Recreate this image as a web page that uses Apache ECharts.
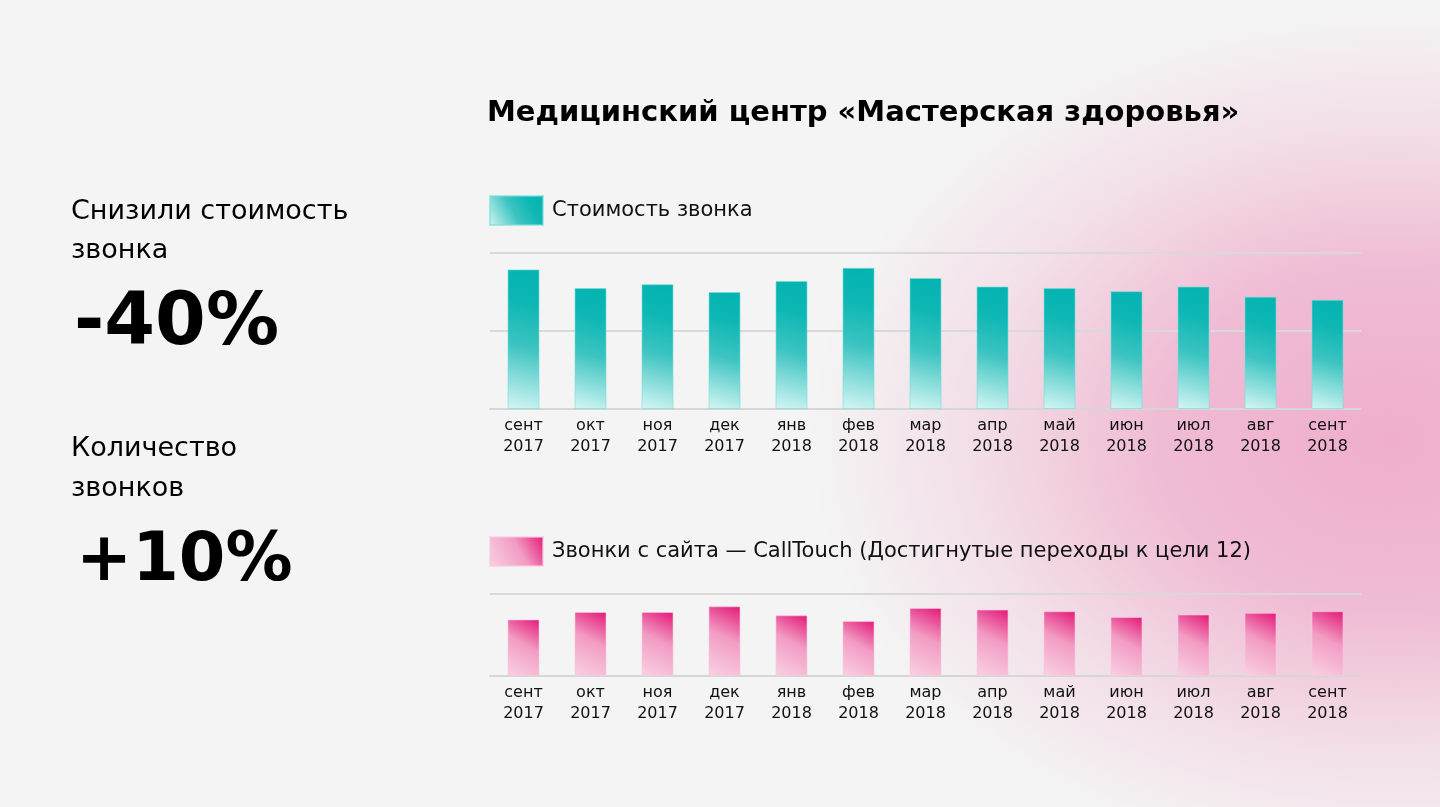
<!DOCTYPE html>
<html>
<head>
<meta charset="utf-8">
<script src="https://cdn.jsdelivr.net/npm/echarts@6/dist/echarts.min.js"></script>
<style>
html,body{margin:0;padding:0;width:1440px;height:807px;overflow:hidden;}
body{background:#f4f4f4;}
#bg{position:absolute;left:0;top:0;width:1440px;height:807px;
background:
 radial-gradient(ellipse 580px 430px at 1390px 440px, rgba(238,170,202,0.95) 0%, rgba(239,178,207,0.85) 40%, rgba(241,196,216,0.45) 72%, rgba(244,244,244,0) 100%),
 #f4f4f4;}
#chart{position:absolute;left:0;top:0;width:1440px;height:807px;}
</style>
</head>
<body>
<div id="bg"></div>
<div id="chart"></div>
<script>
const categories = ['сент\n2017','окт\n2017','ноя\n2017','дек\n2017','янв\n2018','фев\n2018','мар\n2018','апр\n2018','май\n2018','июн\n2018','июл\n2018','авг\n2018','сент\n2018'];
const costValues = [179, 155, 160, 150, 164, 181, 168, 157, 155, 151, 157, 144, 140];
const callValues = [69, 78, 78, 85, 74, 67, 83, 81, 79, 72, 75, 77, 79];
const costName = 'Стоимость звонка';
const callName = 'Звонки с сайта — CallTouch (Достигнутые переходы к цели 12)';
const chartTitle = 'Медицинский центр «Мастерская здоровья»';

const FONT = 'DejaVu Sans';
const tealGrad = new echarts.graphic.LinearGradient(0, 1, 1, 0, [
  {offset: 0, color: '#d4f6f4'},
  {offset: 0.45, color: '#3cc4c1'},
  {offset: 0.75, color: '#0db7b4'},
  {offset: 1, color: '#03b3b0'}
]);
const pinkGrad = new echarts.graphic.LinearGradient(0, 1, 1, 0, [
  {offset: 0, color: '#f9d2e3'},
  {offset: 0.55, color: '#f29cc3'},
  {offset: 1, color: '#e31878'}
]);

function xAxis(gi){
  return {
    type: 'category', gridIndex: gi, data: categories,
    axisLine: {lineStyle: {color: '#d6d6d6', width: 2}},
    axisTick: {show: false},
    axisLabel: {color: '#111', fontFamily: FONT, fontSize: 16, lineHeight: 21, margin: 6, interval: 0}
  };
}
function yAxis(gi, max){
  return {
    type: 'value', gridIndex: gi, min: 0, max: max, interval: 100,
    axisLabel: {show: false}, axisLine: {show: false}, axisTick: {show: false},
    splitLine: {lineStyle: {color: '#d9d9d9', width: 2}}
  };
}
function txt(text, left, top, size, weight, lh){
  return {text: text, left: left, top: top, padding: 0,
    textStyle: {fontFamily: FONT, fontSize: size, fontWeight: weight, color: '#000', lineHeight: lh}};
}

const chart = echarts.init(document.getElementById('chart'));
chart.setOption({
  backgroundColor: 'transparent',
  animation: false,
  title: [
    txt(chartTitle, 487, 96, 29, 'bold', 34),
    txt('Снизили стоимость', 71, 196, 27, 'normal', 32),
    txt('звонка', 71, 235, 27, 'normal', 32),
    txt('-40%', 74, 285, 73, 'bold', 80),
    txt('Количество', 71, 433, 27, 'normal', 32),
    txt('звонков', 71, 473, 27, 'normal', 32),
    txt('+10%', 76, 525, 67, 'bold', 76)
  ],
  legend: [
    {data: [costName], left: 489, top: 195, padding: 0, itemWidth: 53, itemHeight: 29, icon: 'rect',
     textStyle: {fontFamily: FONT, fontSize: 21, color: '#111', padding: [0,0,0,4]}, selectedMode: false},
    {data: [callName], left: 489, top: 536, padding: 0, itemWidth: 53, itemHeight: 29, icon: 'rect',
     textStyle: {fontFamily: FONT, fontSize: 21, color: '#111', padding: [0,0,0,4]}, selectedMode: false}
  ],
  grid: [
    {left: 490, width: 871, top: 253, height: 156},
    {left: 490, width: 871, top: 594, height: 82}
  ],
  xAxis: [xAxis(0), xAxis(1)],
  yAxis: [yAxis(0, 200), yAxis(1, 100)],
  series: [
    {name: costName, type: 'bar', xAxisIndex: 0, yAxisIndex: 0, data: costValues, barWidth: 32,
     itemStyle: {color: tealGrad, borderColor: 'rgba(120,220,215,0.6)', borderWidth: 1}},
    {name: callName, type: 'bar', xAxisIndex: 1, yAxisIndex: 1, data: callValues, barWidth: 32,
     itemStyle: {color: pinkGrad, borderColor: 'rgba(250,200,225,0.6)', borderWidth: 1}}
  ]
});
</script>
</body>
</html>
